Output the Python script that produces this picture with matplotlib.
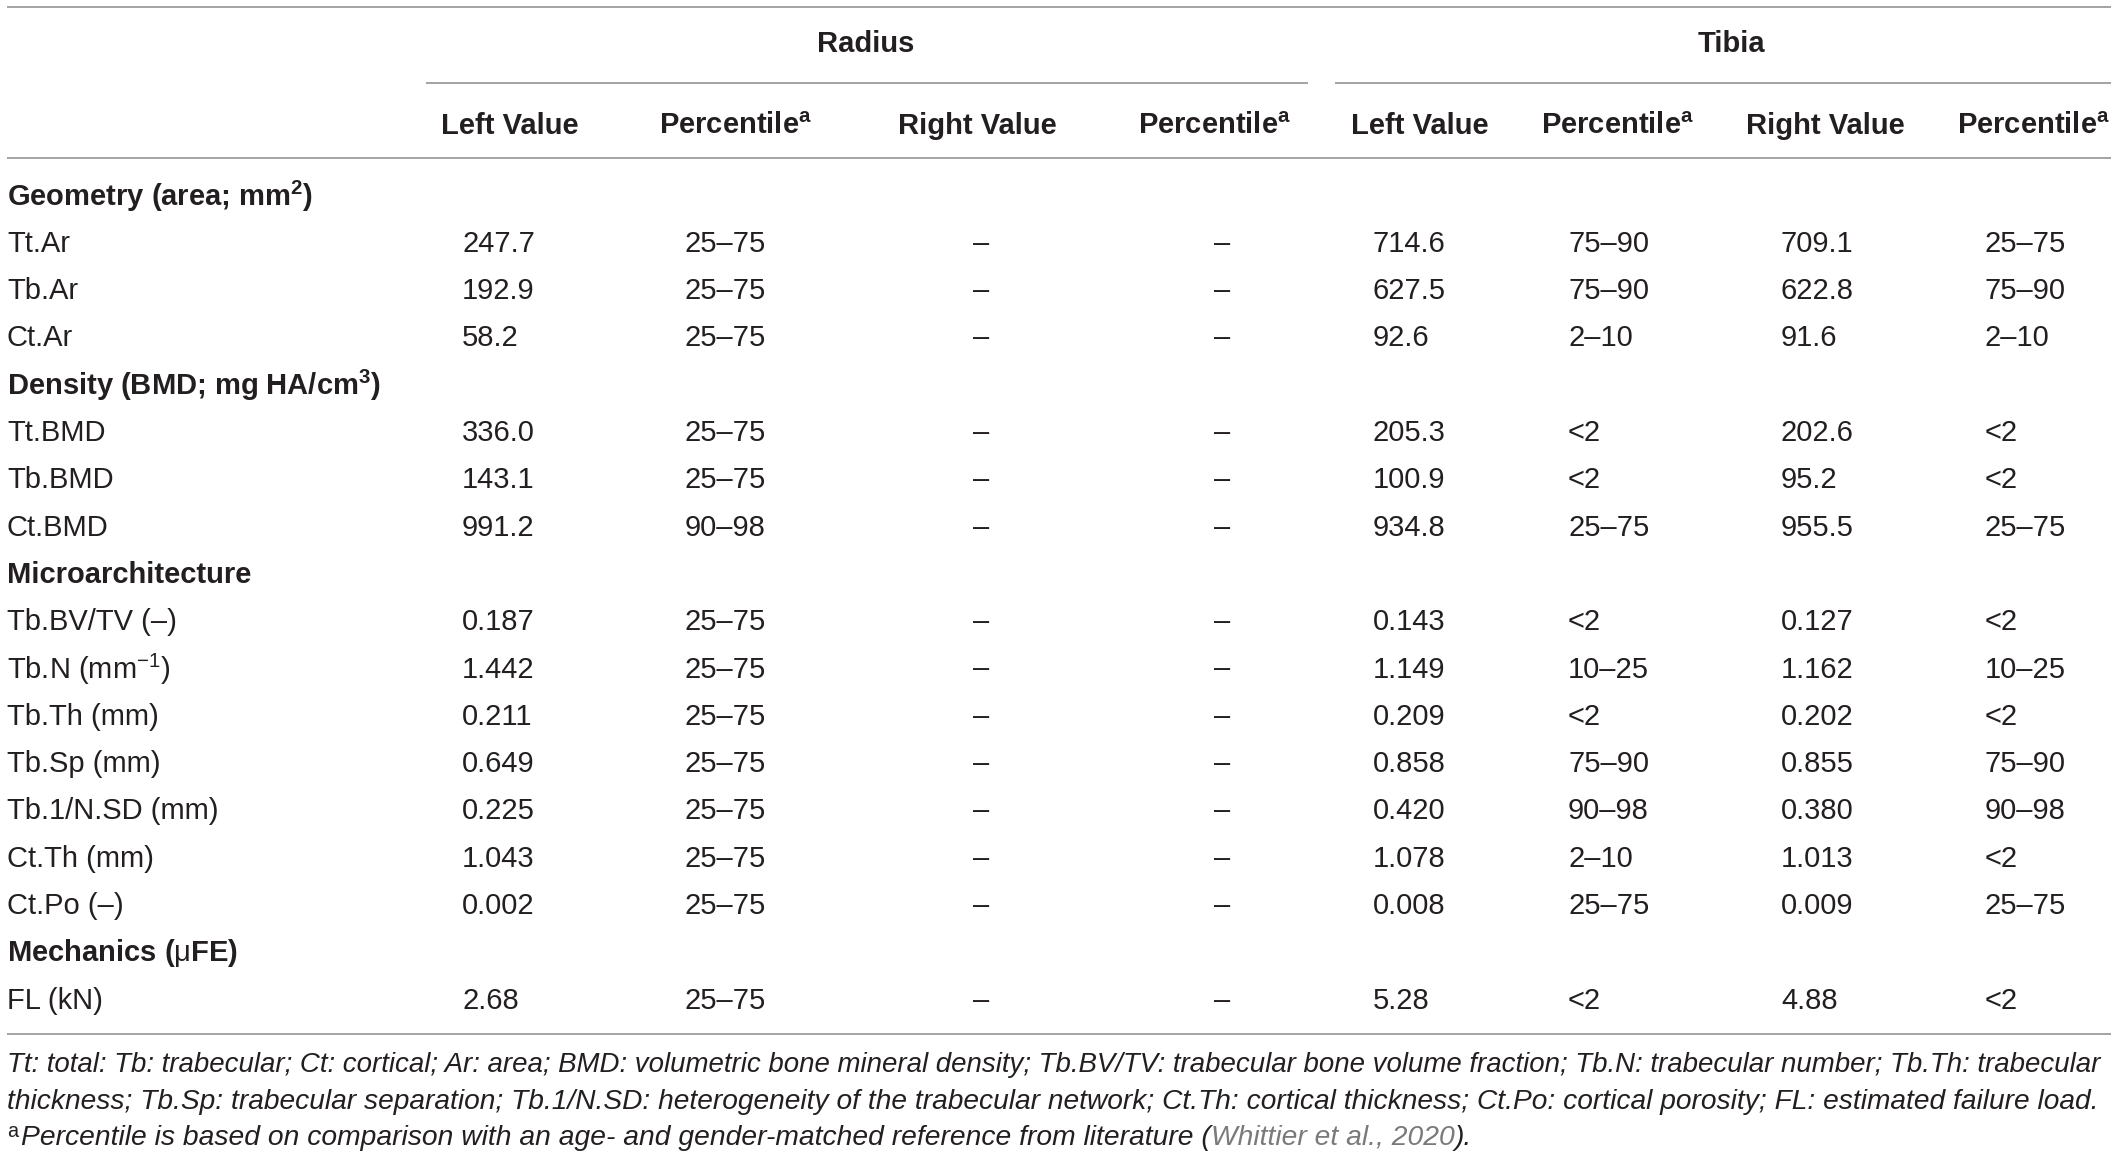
import matplotlib
matplotlib.use("Agg")
import matplotlib.pyplot as plt

plt.rcParams['font.family'] = ['Liberation Sans', 'DejaVu Sans']
plt.rcParams['mathtext.fontset'] = 'custom'
plt.rcParams['mathtext.rm'] = 'Liberation Sans'
plt.rcParams['mathtext.it'] = 'Liberation Sans:italic'
plt.rcParams['mathtext.bf'] = 'Liberation Sans:bold'

# ---------------- data ----------------
groups = ["Radius", "Tibia"]
col_headers = ["Left Value", "Percentile$^{\\mathbf{a}}$", "Right Value", "Percentile$^{\\mathbf{a}}$",
               "Left Value", "Percentile$^{\\mathbf{a}}$", "Right Value", "Percentile$^{\\mathbf{a}}$"]

sections = ["Geometry (area; mm$^{\\mathbf{2}}$)", "Density (BMD; mg HA/cm$^{\\mathbf{3}}$)",
            "Microarchitecture", "Mechanics ($\\mathrm{\\mu}$FE)"]
section_rows = [
    ["Tt.Ar", "Tb.Ar", "Ct.Ar"],
    ["Tt.BMD", "Tb.BMD", "Ct.BMD"],
    ["Tb.BV/TV (\u2013)", "Tb.N (mm$^{-1}$)", "Tb.Th (mm)", "Tb.Sp (mm)",
     "Tb.1/N.SD (mm)", "Ct.Th (mm)", "Ct.Po (\u2013)"],
    ["FL (kN)"],
]

radius_left = ["247.7", "192.9", "58.2", "336.0", "143.1", "991.2", "0.187", "1.442",
               "0.211", "0.649", "0.225", "1.043", "0.002", "2.68"]
radius_left_pct = ["25\u201375", "25\u201375", "25\u201375", "25\u201375", "25\u201375", "90\u201398",
                   "25\u201375", "25\u201375", "25\u201375", "25\u201375", "25\u201375", "25\u201375",
                   "25\u201375", "25\u201375"]
radius_right = ["\u2013"] * 14
radius_right_pct = ["\u2013"] * 14
tibia_left = ["714.6", "627.5", "92.6", "205.3", "100.9", "934.8", "0.143", "1.149",
              "0.209", "0.858", "0.420", "1.078", "0.008", "5.28"]
tibia_left_pct = ["75\u201390", "75\u201390", "2\u201310", "<2", "<2", "25\u201375", "<2", "10\u201325",
                  "<2", "75\u201390", "90\u201398", "2\u201310", "25\u201375", "<2"]
tibia_right = ["709.1", "622.8", "91.6", "202.6", "95.2", "955.5", "0.127", "1.162",
               "0.202", "0.855", "0.380", "1.013", "0.009", "4.88"]
tibia_right_pct = ["25\u201375", "75\u201390", "2\u201310", "<2", "<2", "25\u201375", "<2", "10\u201325",
                   "<2", "75\u201390", "90\u201398", "<2", "25\u201375", "<2"]

footnote1 = ("Tt: total: Tb: trabecular; Ct: cortical; Ar: area; BMD: volumetric bone mineral density; "
             "Tb.BV/TV: trabecular bone volume fraction; Tb.N: trabecular number; Tb.Th: trabecular")
footnote2 = ("thickness; Tb.Sp: trabecular separation; Tb.1/N.SD: heterogeneity of the trabecular network; "
             "Ct.Th: cortical thickness; Ct.Po: cortical porosity; FL: estimated failure load.")
footnote3a = "Percentile is based on comparison with an age- and gender-matched reference from literature ("
footnote3_cite = "Whittier et al., 2020"
footnote3b = ")."

columns = [radius_left, radius_left_pct, radius_right, radius_right_pct,
           tibia_left, tibia_left_pct, tibia_right, tibia_right_pct]

# ---------------- layout ----------------
W, H = 2119, 1157
fig = plt.figure(figsize=(W / 100, H / 100), dpi=100)
ax = fig.add_axes([0, 0, 1, 1])
ax.set_xlim(0, W)
ax.set_ylim(H, 0)
ax.axis('off')

TXT = '#231f20'
LINE = '#939393'
FS = 21
lw = 1.2

x_label = 7
x_right_edge = 2111
col_value_x = [462, 685, 981, 1222, 1373, 1568, 1781, 1985]
col_value_ha = ['left', 'left', 'center', 'center', 'left', 'left', 'left', 'left']
col_header_x = [510, 736, 977, 1215, 1420, 1618, 1825, 2034]
group_x = [866, 1731]
group_line = [(426, 1308), (1335, 2111)]

y_top = 7
y_group = 44
y_group_line = 83
y_header = 126
y_header_line = 158
y_first = 196.5
dy = 47.3
y_bottom = 1034

# rules
ax.plot([x_label, x_right_edge], [y_top, y_top], color=LINE, lw=lw, solid_capstyle='butt')
for (a, b) in group_line:
    ax.plot([a, b], [y_group_line, y_group_line], color=LINE, lw=lw, solid_capstyle='butt')
ax.plot([x_label, x_right_edge], [y_header_line, y_header_line], color=LINE, lw=lw, solid_capstyle='butt')
ax.plot([x_label, x_right_edge], [y_bottom, y_bottom], color=LINE, lw=lw, solid_capstyle='butt')

# headers
for g, gx in zip(groups, group_x):
    ax.text(gx, y_group, g, ha='center', va='center', fontsize=FS, fontweight='bold', color=TXT)
for h, hx in zip(col_headers, col_header_x):
    ax.text(hx, y_header, h, ha='center', va='center', fontsize=FS, fontweight='bold', color=TXT)

# body
row_i = 0
line_i = 0
for sec, rows in zip(sections, section_rows):
    y = y_first + line_i * dy
    ax.text(x_label, y, sec, ha='left', va='center', fontsize=FS, fontweight='bold', color=TXT)
    line_i += 1
    for r in rows:
        y = y_first + line_i * dy
        ax.text(x_label, y, r, ha='left', va='center', fontsize=FS, color=TXT)
        for col, cx, cha in zip(columns, col_value_x, col_value_ha):
            ax.text(cx, y, col[row_i], ha=cha, va='center', fontsize=FS, color=TXT)
        row_i += 1
        line_i += 1

# footnotes
fig.canvas.draw()
renderer = fig.canvas.get_renderer()

def width_px(t):
    return t.get_window_extent(renderer).width

FFS = 20.3
y_f = [1065, 1102, 1138]
t = ax.text(x_label, y_f[0], footnote1, ha='left', va='center', fontsize=FFS, style='italic', color=TXT)
t.set_fontsize(FFS * (x_right_edge - x_label - 2) / width_px(t))
t2 = ax.text(x_label, y_f[1], footnote2, ha='left', va='center', fontsize=FFS, style='italic', color=TXT)
if width_px(t2) > (x_right_edge - x_label - 4):
    t2.set_fontsize(FFS * (x_right_edge - x_label - 6) / width_px(t2))

t0 = ax.text(x_label, y_f[2], "$^{\\mathrm{a}}$", ha='left', va='center', fontsize=FFS, color=TXT)
x = x_label + width_px(t0) + 1
p1 = ax.text(x, y_f[2], footnote3a, ha='left', va='center', fontsize=FFS, style='italic', color=TXT)
x += width_px(p1)
p2 = ax.text(x, y_f[2], footnote3_cite, ha='left', va='center', fontsize=FFS, style='italic', color='#7a7a7a')
x += width_px(p2)
ax.text(x, y_f[2], footnote3b, ha='left', va='center', fontsize=FFS, style='italic', color=TXT)

fig.savefig("out.png", dpi=100)
